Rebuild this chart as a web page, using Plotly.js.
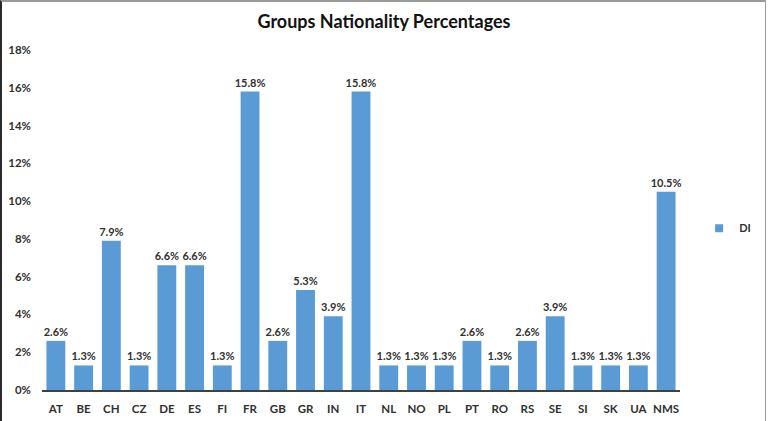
<!DOCTYPE html>
<html>
<head>
<meta charset="utf-8">
<script src="https://cdn.plot.ly/plotly-3.0.1.min.js"></script>
<style>
  html, body { margin: 0; padding: 0; background: #fff; }
  #wrap { position: relative; width: 768px; height: 421px; }
  #chart { position: absolute; left: 0; top: 0; width: 768px; height: 421px; }
  #frame { position: absolute; left: 0; top: 0; width: 766px; height: 421px; box-sizing: border-box;
           border-top: 2px solid #9a9a9a; border-left: 2px solid #2a2a2a; border-right: 1px solid #9a9a9a;
           pointer-events: none; }
</style>
</head>
<body>
<div id="wrap">
  <div id="chart"></div>
  <div id="frame"></div>
</div>
<script>
const categories = ["AT","BE","CH","CZ","DE","ES","FI","FR","GB","GR","IN","IT","NL","NO","PL","PT","RO","RS","SE","SI","SK","UA","NMS"];
const values = [2.6,1.3,7.9,1.3,6.6,6.6,1.3,15.8,2.6,5.3,3.9,15.8,1.3,1.3,1.3,2.6,1.3,2.6,3.9,1.3,1.3,1.3,10.5];
const yTickVals = [0,2,4,6,8,10,12,14,16,18];
const yTickText = ["0%","2%","4%","6%","8%","10%","12%","14%","16%","18%"];
const seriesName = "DI";
const chartTitle = "Groups Nationality Percentages";
const barColor = "#5b9bd5";

const fontFam = "Lato, 'Open Sans', 'Liberation Sans', sans-serif";

const trace = {
  type: "bar",
  x: categories,
  y: values,
  name: seriesName,
  marker: { color: barColor },
  texttemplate: "%{y:.1f}%",
  textposition: "outside",
  constraintext: "none",
  textfont: { family: fontFam, size: 11, color: "#303030", weight: "bold" },
  cliponaxis: false,
  showlegend: false
};

// legend entry drawn as a small square marker
const legendTrace = {
  type: "scatter",
  mode: "markers",
  x: [null],
  y: [null],
  name: seriesName,
  marker: { symbol: "square", size: 8, color: barColor },
  showlegend: true
};

const layout = {
  width: 768, height: 421,
  margin: { l: 42, r: 56, t: 50, b: 31, pad: 0 },
  paper_bgcolor: "#ffffff",
  plot_bgcolor: "#ffffff",
  font: { family: fontFam, size: 11, color: "#303030", weight: "bold" },
  title: {
    text: "<b>" + chartTitle + "</b>",
    font: { family: fontFam, size: 18, color: "#111111" },
    x: 0.5, xanchor: "center", xref: "container", y: 0.948, yanchor: "middle"
  },
  bargap: 0.32,
  xaxis: {
    type: "category",
    categoryorder: "array",
    categoryarray: categories,
    range: [-0.5, categories.length - 0.5],
    showgrid: false,
    showline: true, linecolor: "#404040", linewidth: 1.5,
    ticks: "",
    ticklabelstandoff: 8,
    tickfont: { family: fontFam, size: 11.5, color: "#303030", weight: "bold" },
    fixedrange: true
  },
  yaxis: {
    range: [0, 18],
    tickvals: yTickVals,
    ticktext: yTickText,
    showgrid: false,
    zeroline: false,
    showline: false,
    ticks: "",
    ticklabelstandoff: 10,
    tickfont: { family: fontFam, size: 11.5, color: "#303030", weight: "bold" },
    fixedrange: true
  },
  showlegend: true,
  legend: {
    x: 1.03, xanchor: "left",
    y: 0.476, yanchor: "middle",
    font: { family: fontFam, size: 11, color: "#303030", weight: "bold" },
    itemwidth: 30,
    bgcolor: "rgba(0,0,0,0)"
  }
};

Plotly.newPlot("chart", [trace, legendTrace], layout, { displayModeBar: false, staticPlot: true });
</script>
</body>
</html>
